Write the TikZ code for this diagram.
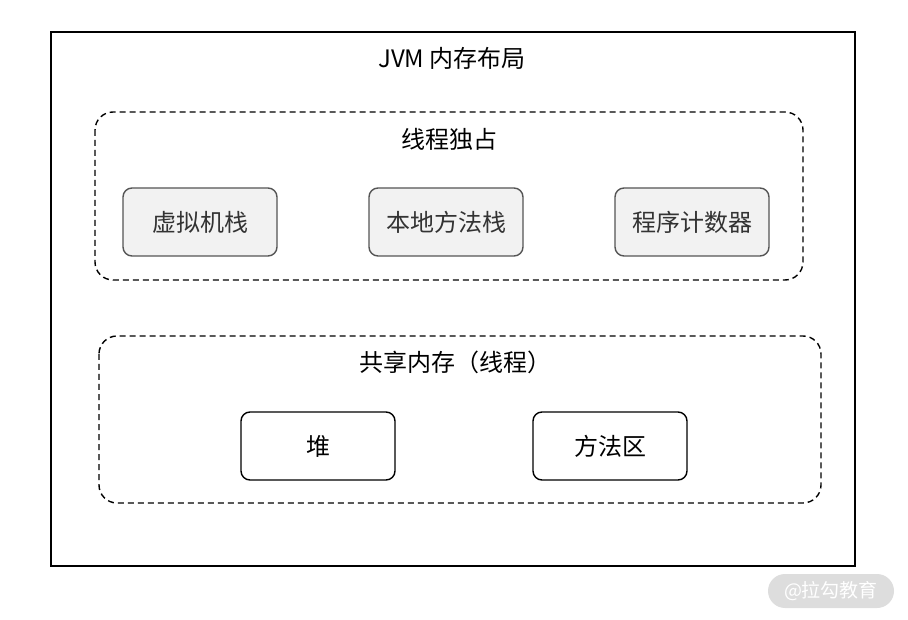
\documentclass[tikz,border=0pt]{standalone}
\usepackage{fontspec}
\setmainfont{Noto Sans CJK SC}
\usetikzlibrary{positioning}
\definecolor{cellfill}{HTML}{F2F2F2}
\definecolor{celldraw}{HTML}{555555}
\definecolor{celltext}{HTML}{333333}
\definecolor{markfill}{HTML}{DDDDDD}

\begin{document}
\begin{tikzpicture}[x=1pt, y=-1pt,
  area/.style={draw, dashed, line width=1.4pt, rounded corners=18pt, dash pattern=on 6pt off 4pt},
  cell/.style={draw=celldraw, fill=cellfill, text=celltext, line width=1.4pt, rounded corners=9pt,
    minimum width=154pt, minimum height=68pt, inner sep=0pt, font=\fontsize{24}{28}\selectfont},
  heapcell/.style={cell, draw=black, fill=white, text=black},
  ttl/.style={font=\fontsize{24}{28}\selectfont, inner sep=0pt},
]
  \useasboundingbox (0,0) rectangle (908,620);
  % outer frame
  \draw[line width=1.6pt] (51,32) rectangle (855,566);
  \node[ttl] (title) at (452,58) {JVM 内存布局};

  % thread private
  \draw[area] (95,112) rectangle (803,280);
  \node[ttl] (private) at (449,139) {线程独占};
  \node[cell] (vmstack) at (200,222) {虚拟机栈};
  \node[cell] (nativestack) at (446,222) {本地方法栈};
  \node[cell] (pc) at (692,222) {程序计数器};

  % shared
  \draw[area] (99,336) rectangle (821,503);
  \node[ttl] (shared) at (455,362) {共享内存（线程）};
  \node[heapcell] (heap) at (318,446) {堆};
  \node[heapcell] (method) at (610,446) {方法区};

  % watermark
  \node[fill=markfill, text=white, rounded corners=17pt, minimum width=126pt, minimum height=34pt,
    inner sep=0pt, font=\fontsize{19}{22}\selectfont] (mark) at (831,591) {@拉勾教育};
\end{tikzpicture}
\end{document}
